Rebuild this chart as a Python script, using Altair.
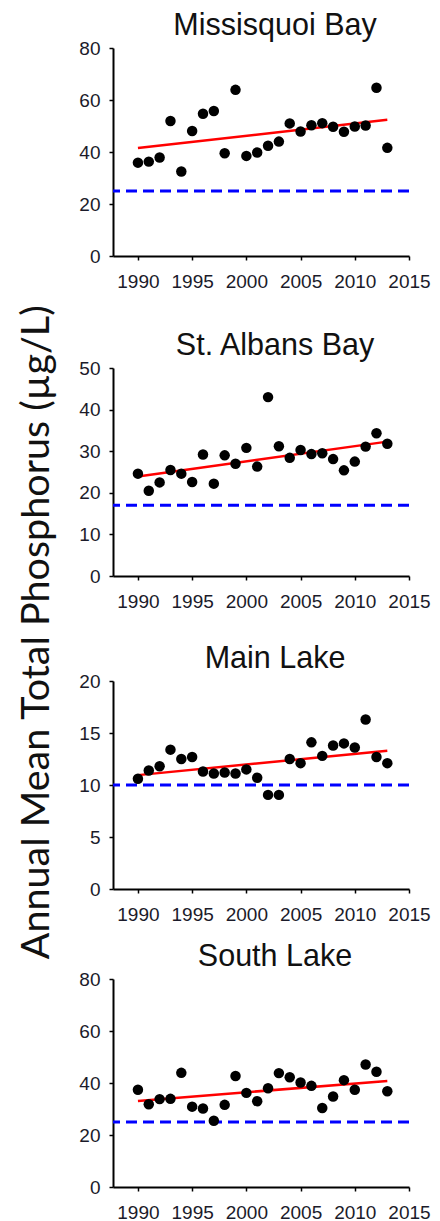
import altair as alt
import pandas as pd

YEARS = list(range(1990, 2014))
MISSISQUOI = [35.9, 36.3, 37.9, 51.9, 32.5, 48.1, 54.7, 55.8, 39.5, 63.9, 38.5, 39.8,
              42.4, 44.0, 51.0, 47.9, 50.3, 51.1, 49.7, 47.8, 49.8, 50.2, 64.7, 41.6]
ST_ALBANS = [24.6, 20.5, 22.5, 25.5, 24.6, 22.6, 29.2, 22.2, 29.0, 27.0, 30.8, 26.3,
             43.0, 31.2, 28.4, 30.3, 29.3, 29.5, 28.1, 25.4, 27.5, 31.1, 34.3, 31.8]
MAIN_LAKE = [10.6, 11.4, 11.8, 13.4, 12.5, 12.7, 11.3, 11.1, 11.2, 11.1, 11.5, 10.7,
             9.05, 9.05, 12.5, 12.1, 14.1, 12.8, 13.8, 14.0, 13.6, 16.3, 12.7, 12.1]
SOUTH_LAKE = [37.4, 31.8, 33.8, 33.9, 43.9, 30.9, 30.2, 25.5, 31.6, 42.7, 36.2, 33.0,
              38.0, 43.8, 42.2, 40.2, 38.9, 30.4, 34.8, 41.1, 37.4, 47.1, 44.3, 36.8]

TREND_YEARS = [1990, 2013]
TREND_MISSISQUOI = [41.5, 52.4]
TREND_ST_ALBANS = [23.9, 32.3]
TREND_MAIN_LAKE = [10.95, 13.3]
TREND_SOUTH_LAKE = [33.1, 40.8]

TITLES = ["Missisquoi Bay", "St. Albans Bay", "Main Lake", "South Lake"]
SERIES = [MISSISQUOI, ST_ALBANS, MAIN_LAKE, SOUTH_LAKE]
TRENDS = [TREND_MISSISQUOI, TREND_ST_ALBANS, TREND_MAIN_LAKE, TREND_SOUTH_LAKE]
TARGETS = [25, 17, 10, 25]
Y_TICKS = [[0, 20, 40, 60, 80], [0, 10, 20, 30, 40, 50], [0, 5, 10, 15, 20], [0, 20, 40, 60, 80]]
X_TICKS = [1990, 1995, 2000, 2005, 2010, 2015]
Y_TITLE = "Annual Mean Total Phosphorus (µg/L)"

EXTRA_GAP = [21, 14, 0, 0]


def panel(i):
    pts = pd.DataFrame({"year": YEARS, "tp": SERIES[i]})
    trend = pd.DataFrame({"year": TREND_YEARS, "tp": TRENDS[i]})
    target = pd.DataFrame({"tp": [TARGETS[i]]})

    common = dict(values=X_TICKS, format="d", labelOverlap=False, labelFlush=False,
                  labelPadding=12, labelFontSize=19)
    if EXTRA_GAP[i] > 0:
        xaxis = alt.Axis(title=" ", titleFontSize=1, titlePadding=EXTRA_GAP[i], **common)
    else:
        xaxis = alt.Axis(title=None, **common)

    ysc = alt.Scale(domain=[0, Y_TICKS[i][-1]], nice=False)
    x = alt.X("year:Q", scale=alt.Scale(domain=[1987.7, 2015], nice=False, zero=False), axis=xaxis)
    y = alt.Y("tp:Q", scale=ysc,
              axis=alt.Axis(values=Y_TICKS[i], title=None, labelPadding=9, labelFontSize=19,
                            labelFlush=False))

    rule = alt.Chart(target).mark_rule(color="#0000ff", strokeDash=[11, 6], strokeWidth=3).encode(
        y=alt.Y("tp:Q", scale=ysc))
    line = alt.Chart(trend).mark_line(color="#ff0000", strokeWidth=2.5).encode(x=x, y=y)
    dots = alt.Chart(pts).mark_circle(size=110, color="black", opacity=1).encode(x=x, y=y)

    return alt.layer(rule, line, dots).properties(
        width=296, height=208,
        title=alt.TitleParams(TITLES[i], font="Liberation Sans", fontSize=30.5, fontWeight="normal",
                              color="#111111", anchor="middle", frame="group", dx=14, offset=-2),
    )


chart = alt.vconcat(*[panel(i) for i in range(4)], spacing=17).properties(
    title=alt.TitleParams(Y_TITLE, orient="left", anchor="middle", font="Lato", fontSize=39.5,
                          fontWeight="normal", color="#111111", offset=21.5, dx=-16),
    padding={"left": 8, "top": 2, "right": 0, "bottom": 0},
).configure_view(stroke=None).configure_axis(
    grid=False, domainColor="black", domainWidth=2, tickColor="black", tickWidth=1.5, tickSize=4,
    labelFont="Liberation Sans", labelColor="#1b1b2a",
)

chart.save("out.html", embed_options={"renderer": "svg", "actions": False})
